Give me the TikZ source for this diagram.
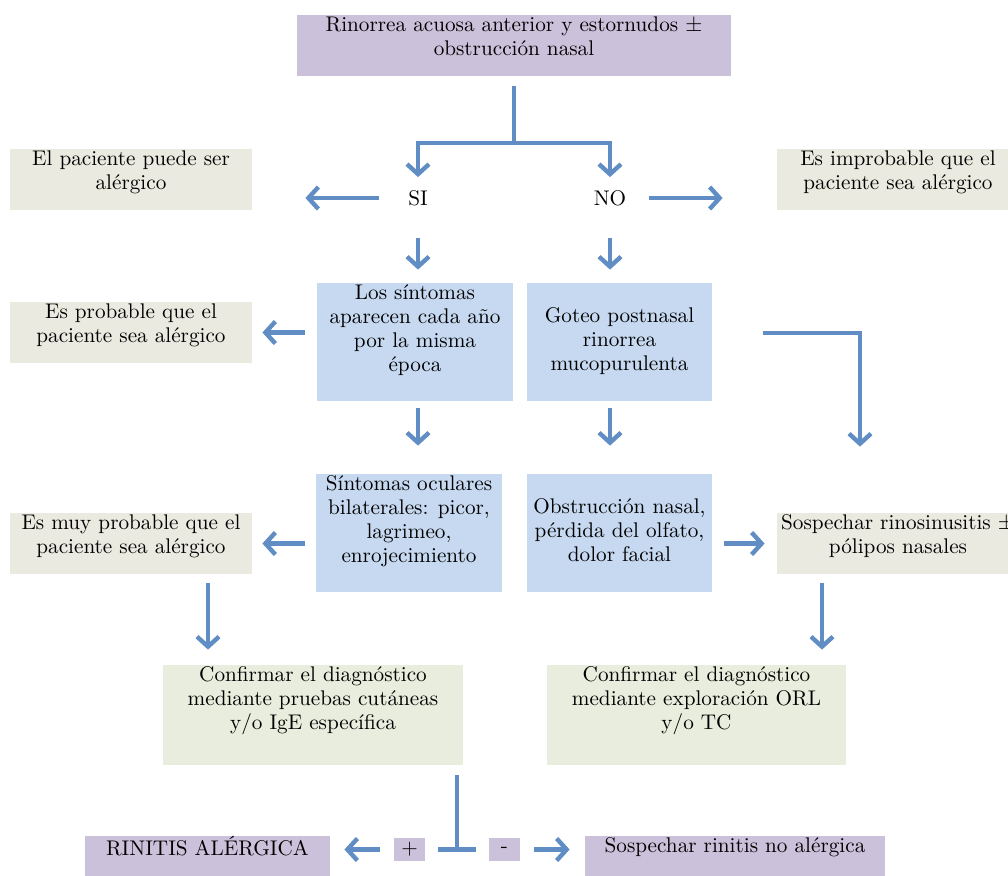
\documentclass[tikz,border=0pt]{standalone}
\usepackage{amsmath}
\usepackage{amssymb}
\usepackage{tikz}
\usetikzlibrary{arrows.meta}

\definecolor{lila}{RGB}{204,193,218}
\definecolor{beige}{RGB}{235,234,224}
\definecolor{celeste}{RGB}{198,217,241}
\definecolor{oliva}{RGB}{232,237,221}
\definecolor{azul}{RGB}{95,141,196}

\newdimen\px \px=.5pt
\newcommand{\boxtxt}[4][t]{\parbox[c][#3\px][#1]{#2\px}{\centering\strut #4\strut}}

\begin{document}
\begin{tikzpicture}[x=.5pt, y=-.5pt, every node/.style={inner sep=0pt, font=\fontsize{10.6}{12}\selectfont},
  lbl/.style={inner sep=3pt},
  sign/.style={fill=lila, minimum width=15.5pt, minimum height=11.5pt},
  line/.style={draw=azul, line width=2.2pt},
  arr/.style={line, -{Straight Barb[length=5pt, width=11pt]}}]
  \useasboundingbox (0,0) rectangle (1008,875);
  \clip (0,0) rectangle (1008,875);

  \node [fill=lila] (1) at (514, 45.5) {\boxtxt{434}{61}{Rinorrea acuosa anterior y estornudos $\pm$\\obstrucción nasal}};
  \node [lbl] (2) at (418, 198) {SI};
  \node [lbl] (3) at (610, 198) {NO};
  \node [fill=beige] (4) at (131, 179.5) {\boxtxt{242}{61}{El paciente puede ser\\alérgico}};
  \node [fill=beige] (5) at (898, 179.5) {\boxtxt{242}{61}{Es improbable que el\\paciente sea alérgico}};
  \node [fill=celeste] (6) at (415, 342) {\boxtxt{196}{118}{Los síntomas\\aparecen cada año\\por la misma\\época}};
  \node [fill=celeste] (7) at (619.5, 342) {\boxtxt[c]{185}{118}{Goteo postnasal\\rinorrea\\mucopurulenta}};
  \node [fill=beige] (8) at (131, 332.5) {\boxtxt{242}{61}{Es probable que el\\paciente sea alérgico}};
  \node [fill=celeste] (9) at (409, 533) {\boxtxt{186}{118}{Síntomas oculares\\bilaterales: picor,\\lagrimeo,\\enrojecimiento}};
  \node [fill=celeste] (10) at (619.5, 533) {\boxtxt[c]{185}{118}{Obstrucción nasal,\\pérdida del olfato,\\dolor facial}};
  \node [fill=beige] (11) at (131, 543.5) {\boxtxt{242}{61}{Es muy probable que el\\paciente sea alérgico}};
  \node [fill=beige] (12) at (898, 543.5) {\boxtxt{242}{61}{Sospechar rinosinusitis $\pm$\\pólipos nasales}};
  \node [fill=oliva] (13) at (313, 715) {\boxtxt{300}{100}{Confirmar el diagnóstico\\mediante pruebas cutáneas\\y/o IgE específica}};
  \node [fill=oliva] (14) at (696.5, 715) {\boxtxt{299}{100}{Confirmar el diagnóstico\\mediante exploración ORL\\y/o TC}};
  \node [fill=lila] (15) at (207.5, 861) {\boxtxt{245}{50}{RINITIS ALÉRGICA}};
  \node [sign] (16) at (409.5, 849.5) {+};
  \node [sign] (17) at (504.5, 849.5) {-};
  \node [fill=lila] (18) at (735, 861) {\boxtxt{300}{50}{Sospechar rinitis no alérgica}};

  \coordinate (f) at (514, 143);
  \coordinate (c) at (860, 333);
  \coordinate (t) at (457, 850);

  \draw [arr, shorten <=5pt, shorten >=3.4pt] (1.south) -- (f) -| (2.north);
  \draw [arr, shorten >=3.4pt] (f) -| (3.north);
  \draw [arr, shorten <=11.2pt, shorten >=26.5pt] (2.west) -- (2.west -| 4.east);
  \draw [arr, shorten <=8pt, shorten >=27pt] (3.east) -- (3.east -| 5.west);
  \draw [arr, shorten <=12.9pt, shorten >=6.5pt] (2.south) -- (2 |- 6.north);
  \draw [arr, shorten <=12.9pt, shorten >=6.5pt] (3.south) -- (3 |- 7.north);
  \draw [arr, shorten <=6pt, shorten >=5pt] (8.east -| 6.west) -- (8.east);
  \draw [arr, shorten <=25.5pt, shorten >=33pt] (7.east |- c) -- (c) -- (c |- 12.north);
  \draw [arr, shorten <=3.5pt, shorten >=14pt] (2 |- 6.south) -- (2 |- 9.north);
  \draw [arr, shorten <=3.5pt, shorten >=14pt] (3 |- 7.south) -- (3 |- 10.north);
  \draw [arr, shorten <=5.5pt, shorten >=5pt] (11.east -| 9.west) -- (11.east);
  \draw [arr, shorten <=6pt, shorten >=6pt] (12.west -| 10.east) -- (12.west);
  \draw [arr, shorten <=4.5pt, shorten >=7.5pt] ([xshift=38.5pt]11.south) -- ([xshift=38.5pt]11.south |- 13.north);
  \draw [arr, shorten <=4.5pt, shorten >=7.5pt] ([xshift=-38pt]12.south) -- ([xshift=-38pt]12.south |- 14.north);
  \draw [line, shorten <=5pt] (t |- 13.south) -- (t);
  \draw [line, shorten <=6.5pt, shorten >=6.5pt] (16.east) -- (17.west);
  \draw [arr, shorten <=7pt, shorten >=7pt] (16.west) -- (16.west -| 15.east);
  \draw [arr, shorten <=7pt, shorten >=7.5pt] (17.east) -- (17.east -| 18.west);
\end{tikzpicture}
\end{document}
